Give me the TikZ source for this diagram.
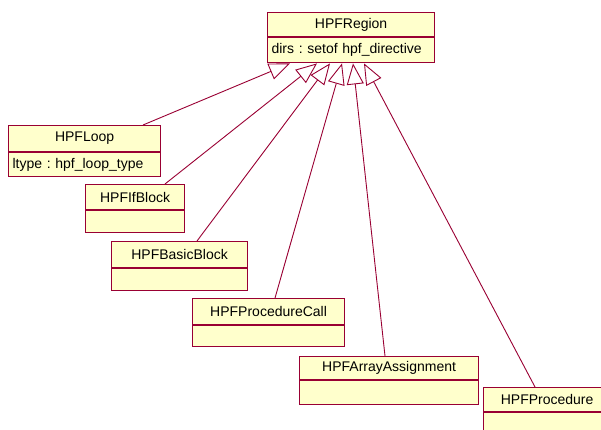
\documentclass[tikz,border=0pt]{standalone}
\usepackage{fontspec}
\setmainfont{Liberation Sans}
\usetikzlibrary{arrows.meta}
\definecolor{umlline}{RGB}{153,0,51}
\definecolor{umlfill}{RGB}{255,255,204}
\tikzset{
  classbox/.style={draw=umlline, fill=umlfill, line width=1.2pt, rectangle,
    inner xsep=4pt, inner ysep=0pt, font=\fontsize{14}{16}\selectfont\frenchspacing,
    anchor=north west},
  hdr/.style={classbox, align=center},
  attrs/.style={classbox, align=left},
  gen/.style={draw=umlline, line width=0.9pt,
    -{Triangle[length=21pt,width=17pt,fill=white,line width=0.9pt]}}
}
\begin{document}
\begin{tikzpicture}[x=1pt,y=-1pt]
\useasboundingbox (0,0) rectangle (601,430);
\clip (0,0) rectangle (601,430);

% superclass
\node[hdr, minimum width=167pt, minimum height=24pt] (region) at (267,12) {HPFRegion};
\node[attrs, text width=159pt, minimum height=25pt] (regionA) at (region.south west) {dirs : setof hpf\_directive};

% subclasses
\node[hdr, minimum width=152pt, minimum height=26pt] (loop) at (8,125) {HPFLoop};
\node[attrs, text width=144pt, minimum height=24pt] (loopA) at (loop.south west) {ltype : hpf\_loop\_type};

\node[hdr, minimum width=99pt, minimum height=25pt] (ifb) at (85,184) {HPFIfBlock};
\node[attrs, text width=91pt, minimum height=22pt] (ifbA) at (ifb.south west) {};

\node[hdr, minimum width=136pt, minimum height=26pt] (basic) at (111,241) {HPFBasicBlock};
\node[attrs, text width=128pt, minimum height=22pt] (basicA) at (basic.south west) {};

\node[hdr, minimum width=152pt, minimum height=26pt] (pcall) at (192,298) {HPFProcedureCall};
\node[attrs, text width=144pt, minimum height=21pt] (pcallA) at (pcall.south west) {};

\node[hdr, minimum width=179pt, minimum height=23pt] (arr) at (299,356) {HPFArrayAssignment};
\node[attrs, text width=171pt, minimum height=24pt] (arrA) at (arr.south west) {};

\node[hdr, minimum width=127pt, minimum height=24pt] (proc) at (483,387) {HPFProcedure};
\node[attrs, text width=119pt, minimum height=24pt] (procA) at (proc.south west) {};

% generalization links
\draw[gen] ([xshift=135pt]loop.north west) -- ([xshift=23pt]regionA.south west);
\draw[gen] ([xshift=80pt]ifb.north west) -- ([xshift=50pt]regionA.south west);
\draw[gen] ([xshift=86pt]basic.north west) -- ([xshift=63pt]regionA.south west);
\draw[gen] ([xshift=83pt]pcall.north west) -- ([xshift=75pt]regionA.south west);
\draw[gen] ([xshift=86pt]arr.north west) -- ([xshift=86pt]regionA.south west);
\draw[gen] ([xshift=52pt]proc.north west) -- ([xshift=97pt]regionA.south west);
\end{tikzpicture}
\end{document}
